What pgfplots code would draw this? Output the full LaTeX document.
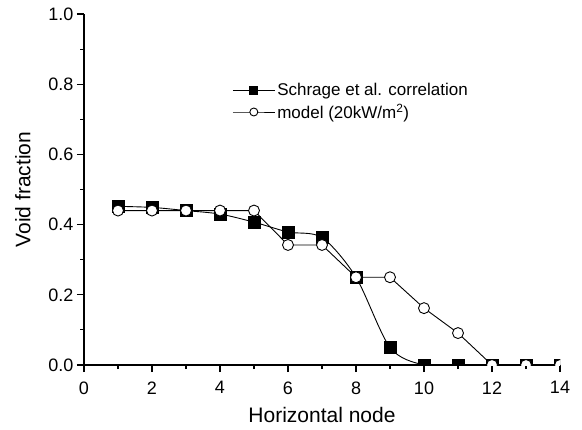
\documentclass[border=0pt]{standalone}
\usepackage{pgfplots}
\pgfplotsset{compat=1.18}
\usepackage{fontspec}
\setmainfont{Liberation Sans}
\begin{document}
\begin{tikzpicture}
\begin{axis}[
  name=ax,
  scale only axis,
  width=476pt, height=351pt,
  xmin=0, xmax=14, ymin=0, ymax=1,
  axis x line*=bottom, axis y line*=left,
  axis line style={line width=1.1pt},
  xtick={0,2,...,14}, minor xtick={1,3,...,13},
  ytick={0,0.2,...,1.0}, minor ytick={0.1,0.3,...,0.9},
  tick align=outside,
  major tick length=7pt, minor tick length=4pt,
  every tick/.style={line width=1.1pt, black},
  tick label style={font=\fontsize{18}{20}\selectfont},
  xticklabel style={yshift=-6pt},
  /pgf/number format/assume math mode=true,
  yticklabel style={/pgf/number format/fixed, /pgf/number format/fixed zerofill, /pgf/number format/precision=1},
  xlabel={Horizontal node}, ylabel={Void fraction},
  label style={font=\fontsize{21}{24}\selectfont},
  xlabel style={yshift=-6pt},
  ylabel style={yshift=11pt},
  clip marker paths=true,
  legend style={draw=none, fill=none, at={(axis cs:4.27,0.815)}, anchor=north west,
    font=\fontsize{17}{20}\selectfont, row sep=3pt},
  legend cell align=left,
  legend image code/.code={\draw[mark repeat=2,mark phase=2,mark size=4pt] plot coordinates {(0pt,0pt)(21pt,0pt)(42pt,0pt)};},
]
\addplot[black, line width=0.9pt, smooth, tension=0.5, mark=square*, mark size=6pt, mark options={solid,fill=black}]
coordinates {(1,0.452)(2,0.449)(3,0.44)(4,0.43)(5,0.407)(6,0.379)(7,0.363)(8,0.25)(9,0.05)(10,0)(11,0)(12,0)(13,0)(14,0)};
\addlegendentry{Schrage et al. correlation}
\addplot[black, line width=0.9pt, mark=*, mark size=5.5pt, mark options={solid,fill=white,line width=0.9pt}]
coordinates {(1,0.44)(2,0.44)(3,0.44)(4,0.44)(5,0.44)(6,0.342)(7,0.342)(8,0.25)(9,0.25)(10,0.162)(11,0.091)(12,0)(13,0)(14,0)};
\addlegendentry{model (20kW/m\textsuperscript{2})}
\end{axis}
\pgfresetboundingbox
\path[use as bounding box] ([xshift=-84pt,yshift=-64pt]ax.south west) rectangle ([xshift=22pt,yshift=14pt]ax.north east);
\end{tikzpicture}
\end{document}
